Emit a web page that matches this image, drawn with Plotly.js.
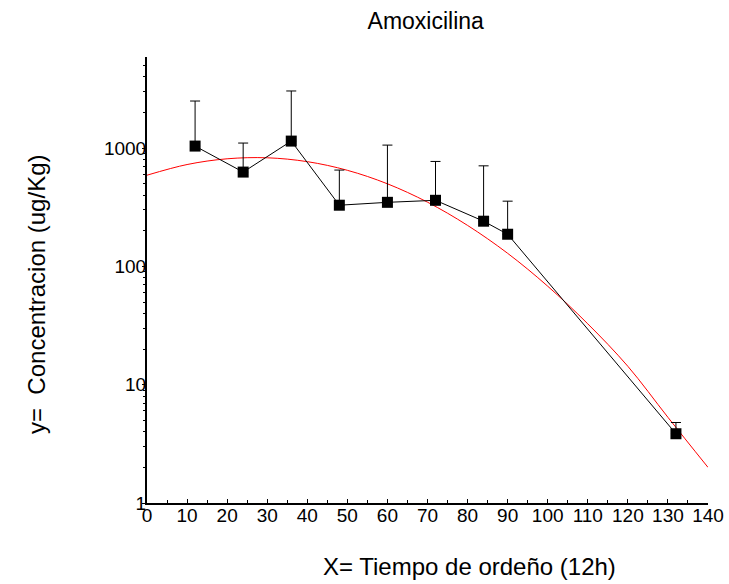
<!DOCTYPE html>
<html>
<head>
<meta charset="utf-8">
<script src="https://cdn.plot.ly/plotly-3.0.1.min.js"></script>
<style>html,body{margin:0;padding:0;background:#fff;}#chart{width:729px;height:584px;}</style>
</head>
<body>
<div id="chart"></div>
<script>
// Measured data
const times = [12, 24, 36, 48, 60, 72, 84, 90, 132];
const conc = [1040, 627, 1146, 329, 348, 362, 241, 187, 3.85];
const errPlus = [1460, 476, 1894, 323, 712, 409, 467, 169, 0.94];

// Fitted curve
const fitX = [0, 10, 20, 30, 40, 50, 60, 70, 80, 90, 100, 110, 120, 130, 140];
const fitY = [590, 726, 812, 828, 768, 649, 499, 349, 222, 129, 68, 32.7, 14.3, 5.3, 2.0];

const yTicks = [1, 10, 100, 1000];
const yTickText = ['1', '10', '100', '1000'];
const yMinor = [2,3,4,5,6,7,8,9,20,30,40,50,60,70,80,90,200,300,400,500,600,700,800,900,2000,3000,4000,5000];

const titleText = 'Amoxicilina';
const xTitleText = 'X= Tiempo de ordeño (12h)';
const yTitleText = 'y=  Concentracion (ug/Kg)';

const font = 'Liberation Sans, Arial, sans-serif';

const traces = [
  {
    x: fitX, y: fitY, mode: 'lines', type: 'scatter',
    line: {color: '#ff0000', width: 1, shape: 'spline'},
    hoverinfo: 'skip', showlegend: false
  },
  {
    x: times, y: conc, mode: 'lines+markers', type: 'scatter',
    line: {color: '#000', width: 1},
    marker: {symbol: 'square', size: 11, color: '#000'},
    error_y: {type: 'data', symmetric: false, array: errPlus, arrayminus: times.map(() => 0),
              color: '#000', thickness: 1, width: 5},
    showlegend: false
  }
];

const layout = {
  width: 729, height: 584,
  margin: {l: 147, r: 21, t: 57, b: 81},
  paper_bgcolor: '#fff', plot_bgcolor: '#fff',
  font: {family: font, color: '#000', size: 19},
  title: {text: titleText, font: {family: font, size: 23, color: '#000'}, x: 0.584, xanchor: 'center', y: 0.964, yanchor: 'middle'},
  xaxis: {
    range: [0, 140], dtick: 10, tick0: 0,
    showgrid: false, zeroline: false,
    showline: true, linecolor: '#000', linewidth: 2,
    ticks: 'inside', ticklen: 4, tickcolor: '#000',
    minor: {dtick: 5, ticks: 'inside', ticklen: 3, tickcolor: '#000'},
    tickfont: {family: font, size: 19, color: '#000'},
    ticklabelstandoff: -6
  },
  yaxis: {
    type: 'log', range: [0, 3.77],
    tickvals: yTicks, ticktext: yTickText,
    showgrid: false, zeroline: false,
    showline: true, linecolor: '#000', linewidth: 2,
    ticks: 'outside', ticklen: 3, tickcolor: '#000',
    minor: {tickvals: yMinor, ticks: 'outside', ticklen: 2, tickcolor: '#000'},
    tickfont: {family: font, size: 19, color: '#000'},
    ticklabelstandoff: -8
  },
  annotations: [
    {text: xTitleText, xref: 'paper', yref: 'paper', x: (469 - 147) / 561, y: -(566 - 503) / 446,
     xanchor: 'center', yanchor: 'middle', showarrow: false, font: {family: font, size: 24, color: '#000'}},
    {text: yTitleText, xref: 'paper', yref: 'paper', x: -(147 - 36) / 561, y: (503 - 294) / 446,
     xanchor: 'center', yanchor: 'middle', textangle: -90, showarrow: false, font: {family: font, size: 24, color: '#000'}}
  ]
};

Plotly.newPlot('chart', traces, layout, {displayModeBar: false, staticPlot: true});
</script>
</body>
</html>
